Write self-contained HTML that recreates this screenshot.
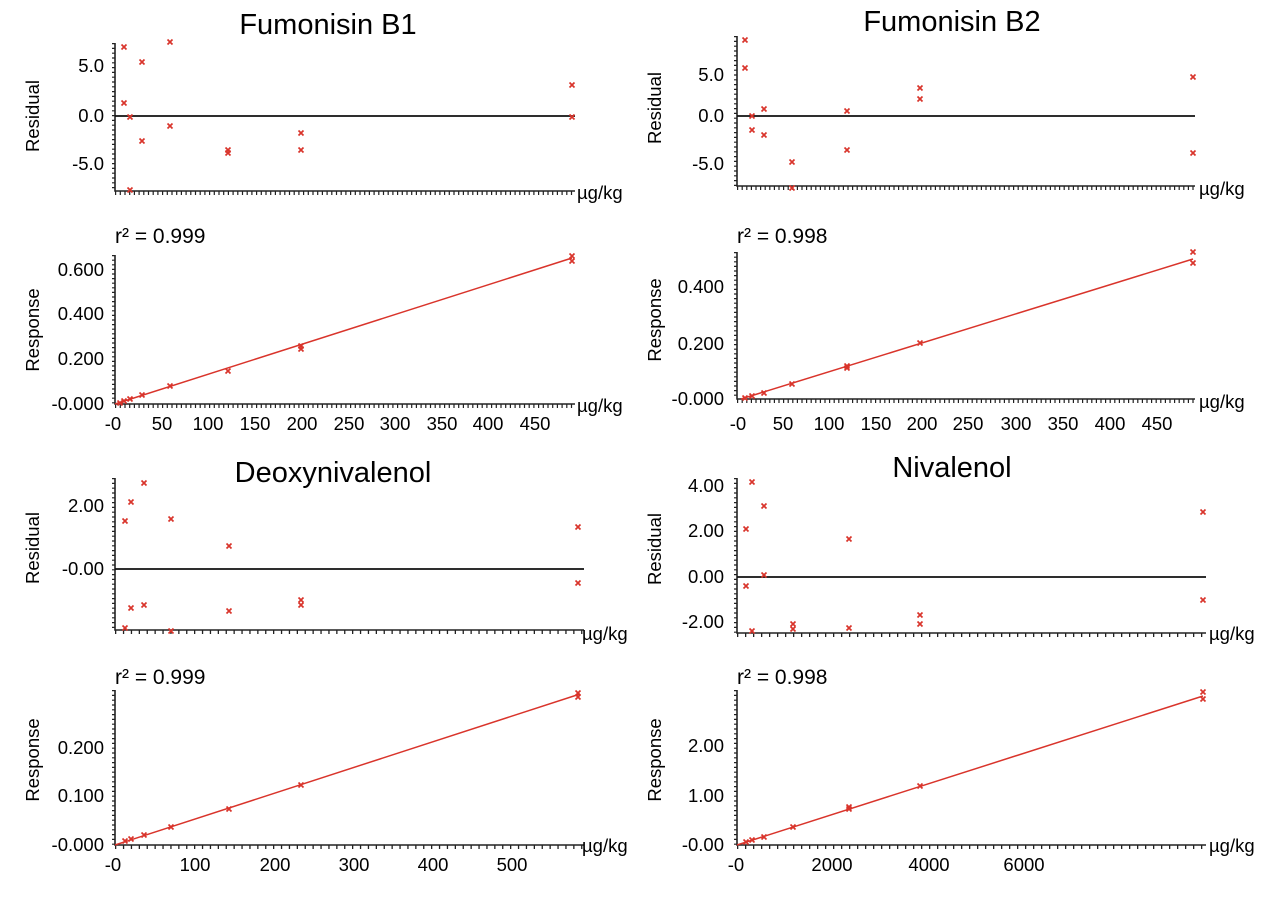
<!DOCTYPE html>
<html><head><meta charset="utf-8"><style>
body{margin:0;background:#fff}
svg{display:block;font-family:"Liberation Sans",Arial,sans-serif}
.t{font-size:29px;text-anchor:middle}
.l{font-size:18.5px}
.q{font-size:21px}
.r{text-anchor:end}
.c{text-anchor:middle}
.ax{stroke:#222;stroke-width:1.6;fill:none}
.tk{stroke:#222;fill:none}
.fit{stroke:#d9342b;stroke-width:1.5}
use{stroke:#d9342b;stroke-width:1.7}
</style></head><body>
<svg width="1280" height="906" viewBox="0 0 1280 906" xmlns="http://www.w3.org/2000/svg">
<defs><path id="m" d="M-2.5-2.5L2.5 2.5M2.5-2.5L-2.5 2.5"/></defs>

<!-- FB1 -->
<text class="t" x="328" y="34">Fumonisin B1</text>
<text class="l c" transform="translate(39,116) rotate(-90)">Residual</text>
<path class="ax" d="M115 43V191H575"/>
<path class="tk" d="M113.5 43V191" stroke-width="3" stroke-dasharray="1.2 3.6"/>
<path class="tk" d="M115 193H575" stroke-width="4" stroke-dasharray="1.2 3.5"/>
<path d="M115 116H575" stroke="#111" stroke-width="1.7"/>
<text class="l r" x="104" y="72">5.0</text><text class="l r" x="104" y="122">0.0</text><text class="l r" x="104" y="170">-5.0</text>
<text class="l" x="577" y="199">µg/kg</text>
<use href="#m" x="124" y="47"/><use href="#m" x="124" y="103"/><use href="#m" x="130" y="117"/><use href="#m" x="130" y="190"/><use href="#m" x="142" y="62"/><use href="#m" x="142" y="141"/><use href="#m" x="170" y="42"/><use href="#m" x="170" y="126"/><use href="#m" x="228" y="150"/><use href="#m" x="228" y="153"/><use href="#m" x="301" y="133"/><use href="#m" x="301" y="150"/><use href="#m" x="572" y="85"/><use href="#m" x="572" y="117"/>

<text class="q" x="115" y="243">r² = 0.999</text>
<text class="l c" transform="translate(39,330) rotate(-90)">Response</text>
<path class="ax" d="M115 255V404H575"/>
<path class="tk" d="M113.5 255V404" stroke-width="3" stroke-dasharray="1.2 3.4"/>
<path class="tk" d="M115 406H575" stroke-width="4" stroke-dasharray="1.2 3.5"/>
<text class="l r" x="104" y="276">0.600</text><text class="l r" x="104" y="320">0.400</text><text class="l r" x="104" y="365">0.200</text><text class="l r" x="104" y="410">-0.000</text>
<text class="l" x="577" y="412">µg/kg</text>
<g class="l c"><text x="113" y="430">-0</text><text x="162" y="430">50</text><text x="208" y="430">100</text><text x="255" y="430">150</text><text x="302" y="430">200</text><text x="349" y="430">250</text><text x="395" y="430">300</text><text x="442" y="430">350</text><text x="488" y="430">400</text><text x="535" y="430">450</text></g>
<path class="fit" d="M115 404L572 258"/>
<use href="#m" x="120" y="403"/><use href="#m" x="124" y="401"/><use href="#m" x="130" y="399"/><use href="#m" x="142" y="395"/><use href="#m" x="170" y="386"/><use href="#m" x="228" y="371"/><use href="#m" x="301" y="346"/><use href="#m" x="301" y="349"/><use href="#m" x="572" y="256"/><use href="#m" x="572" y="261"/>

<!-- FB2 -->
<text class="t" x="952" y="31">Fumonisin B2</text>
<text class="l c" transform="translate(661,108) rotate(-90)">Residual</text>
<path class="ax" d="M737 36V186H1195"/>
<path class="tk" d="M735.5 36V186" stroke-width="3" stroke-dasharray="1.2 3.6"/>
<path class="tk" d="M737 188H1195" stroke-width="4" stroke-dasharray="1.2 3.4"/>
<path d="M737 116H1195" stroke="#111" stroke-width="1.7"/>
<text class="l r" x="724" y="81">5.0</text><text class="l r" x="724" y="122">0.0</text><text class="l r" x="724" y="170">-5.0</text>
<text class="l" x="1199" y="195">µg/kg</text>
<use href="#m" x="745" y="40"/><use href="#m" x="745" y="68"/><use href="#m" x="752" y="116"/><use href="#m" x="752" y="130"/><use href="#m" x="764" y="109"/><use href="#m" x="764" y="135"/><use href="#m" x="792" y="162"/><use href="#m" x="792" y="188"/><use href="#m" x="847" y="111"/><use href="#m" x="847" y="150"/><use href="#m" x="920" y="88"/><use href="#m" x="920" y="99"/><use href="#m" x="1193" y="77"/><use href="#m" x="1193" y="153"/>

<text class="q" x="737" y="243">r² = 0.998</text>
<text class="l c" transform="translate(661,320) rotate(-90)">Response</text>
<path class="ax" d="M737 252V399H1195"/>
<path class="tk" d="M735.5 252V399" stroke-width="3" stroke-dasharray="1.2 3.4"/>
<path class="tk" d="M737 401H1195" stroke-width="4" stroke-dasharray="1.2 3.4"/>
<text class="l r" x="724" y="293">0.400</text><text class="l r" x="724" y="350">0.200</text><text class="l r" x="724" y="405">-0.000</text>
<text class="l" x="1199" y="408">µg/kg</text>
<g class="l c"><text x="738" y="430">-0</text><text x="783" y="430">50</text><text x="829" y="430">100</text><text x="876" y="430">150</text><text x="922" y="430">200</text><text x="968" y="430">250</text><text x="1016" y="430">300</text><text x="1063" y="430">350</text><text x="1110" y="430">400</text><text x="1157" y="430">450</text></g>
<path class="fit" d="M741 399L1193 259"/>
<use href="#m" x="745" y="398"/><use href="#m" x="752" y="396"/><use href="#m" x="764" y="393"/><use href="#m" x="792" y="384"/><use href="#m" x="847" y="368"/><use href="#m" x="847" y="366"/><use href="#m" x="920" y="343"/><use href="#m" x="1193" y="252"/><use href="#m" x="1193" y="263"/>

<!-- DON -->
<text class="t" x="333" y="482">Deoxynivalenol</text>
<text class="l c" transform="translate(39,548) rotate(-90)">Residual</text>
<path class="ax" d="M115 478V630H584"/>
<path class="tk" d="M113.5 478V630" stroke-width="3" stroke-dasharray="1.2 3.6"/>
<path class="tk" d="M115 632H584" stroke-width="4" stroke-dasharray="1.3 6.6"/>
<path d="M115 569H584" stroke="#111" stroke-width="1.7"/>
<text class="l r" x="104" y="512">2.00</text><text class="l r" x="104" y="575">-0.00</text>
<text class="l" x="582" y="640">µg/kg</text>
<use href="#m" x="125" y="521"/><use href="#m" x="125" y="628"/><use href="#m" x="131" y="502"/><use href="#m" x="131" y="608"/><use href="#m" x="144" y="483"/><use href="#m" x="144" y="605"/><use href="#m" x="171" y="519"/><use href="#m" x="171" y="631"/><use href="#m" x="229" y="546"/><use href="#m" x="229" y="611"/><use href="#m" x="301" y="600"/><use href="#m" x="301" y="605"/><use href="#m" x="578" y="527"/><use href="#m" x="578" y="583"/>

<text class="q" x="115" y="684">r² = 0.999</text>
<text class="l c" transform="translate(39,760) rotate(-90)">Response</text>
<path class="ax" d="M115 690V845H584"/>
<path class="tk" d="M113.5 690V845" stroke-width="3" stroke-dasharray="1.2 3.6"/>
<path class="tk" d="M115 847H584" stroke-width="4" stroke-dasharray="1.3 6.6"/>
<text class="l r" x="104" y="754">0.200</text><text class="l r" x="104" y="802">0.100</text><text class="l r" x="104" y="851">-0.000</text>
<text class="l" x="582" y="852">µg/kg</text>
<g class="l c"><text x="113" y="871">-0</text><text x="195" y="871">100</text><text x="275" y="871">200</text><text x="354" y="871">300</text><text x="433" y="871">400</text><text x="512" y="871">500</text></g>
<path class="fit" d="M115 845L580 694"/>
<use href="#m" x="125" y="841"/><use href="#m" x="131" y="839"/><use href="#m" x="144" y="835"/><use href="#m" x="171" y="827"/><use href="#m" x="229" y="809"/><use href="#m" x="301" y="785"/><use href="#m" x="578" y="693"/><use href="#m" x="578" y="697"/>

<!-- NIV -->
<text class="t" x="952" y="477">Nivalenol</text>
<text class="l c" transform="translate(661,549) rotate(-90)">Residual</text>
<path class="ax" d="M737 478V633H1206"/>
<path class="tk" d="M735.5 478V633" stroke-width="3" stroke-dasharray="1.2 3.6"/>
<path class="tk" d="M737 635H1206" stroke-width="4" stroke-dasharray="1.3 6.7"/>
<path d="M737 577H1206" stroke="#111" stroke-width="1.7"/>
<text class="l r" x="724" y="492">4.00</text><text class="l r" x="724" y="537">2.00</text><text class="l r" x="724" y="583">0.00</text><text class="l r" x="724" y="628">-2.00</text>
<text class="l" x="1209" y="640">µg/kg</text>
<use href="#m" x="746" y="529"/><use href="#m" x="746" y="586"/><use href="#m" x="752" y="482"/><use href="#m" x="752" y="631"/><use href="#m" x="764" y="506"/><use href="#m" x="764" y="575"/><use href="#m" x="793" y="624"/><use href="#m" x="793" y="629"/><use href="#m" x="849" y="539"/><use href="#m" x="849" y="628"/><use href="#m" x="920" y="615"/><use href="#m" x="920" y="624"/><use href="#m" x="1203" y="512"/><use href="#m" x="1203" y="600"/>

<text class="q" x="737" y="684">r² = 0.998</text>
<text class="l c" transform="translate(661,760) rotate(-90)">Response</text>
<path class="ax" d="M737 690V845H1206"/>
<path class="tk" d="M735.5 690V845" stroke-width="3" stroke-dasharray="1.2 3.6"/>
<path class="tk" d="M737 847H1206" stroke-width="4" stroke-dasharray="1.3 6.7"/>
<text class="l r" x="724" y="752">2.00</text><text class="l r" x="724" y="802">1.00</text><text class="l r" x="724" y="851">-0.00</text>
<text class="l" x="1209" y="852">µg/kg</text>
<g class="l c"><text x="736" y="871">-0</text><text x="832" y="871">2000</text><text x="929" y="871">4000</text><text x="1024" y="871">6000</text></g>
<path class="fit" d="M737 845L1203 696"/>
<use href="#m" x="746" y="842"/><use href="#m" x="752" y="840"/><use href="#m" x="764" y="837"/><use href="#m" x="793" y="827"/><use href="#m" x="849" y="809"/><use href="#m" x="849" y="807"/><use href="#m" x="920" y="786"/><use href="#m" x="1203" y="692"/><use href="#m" x="1203" y="699"/>
</svg>
</body></html>
